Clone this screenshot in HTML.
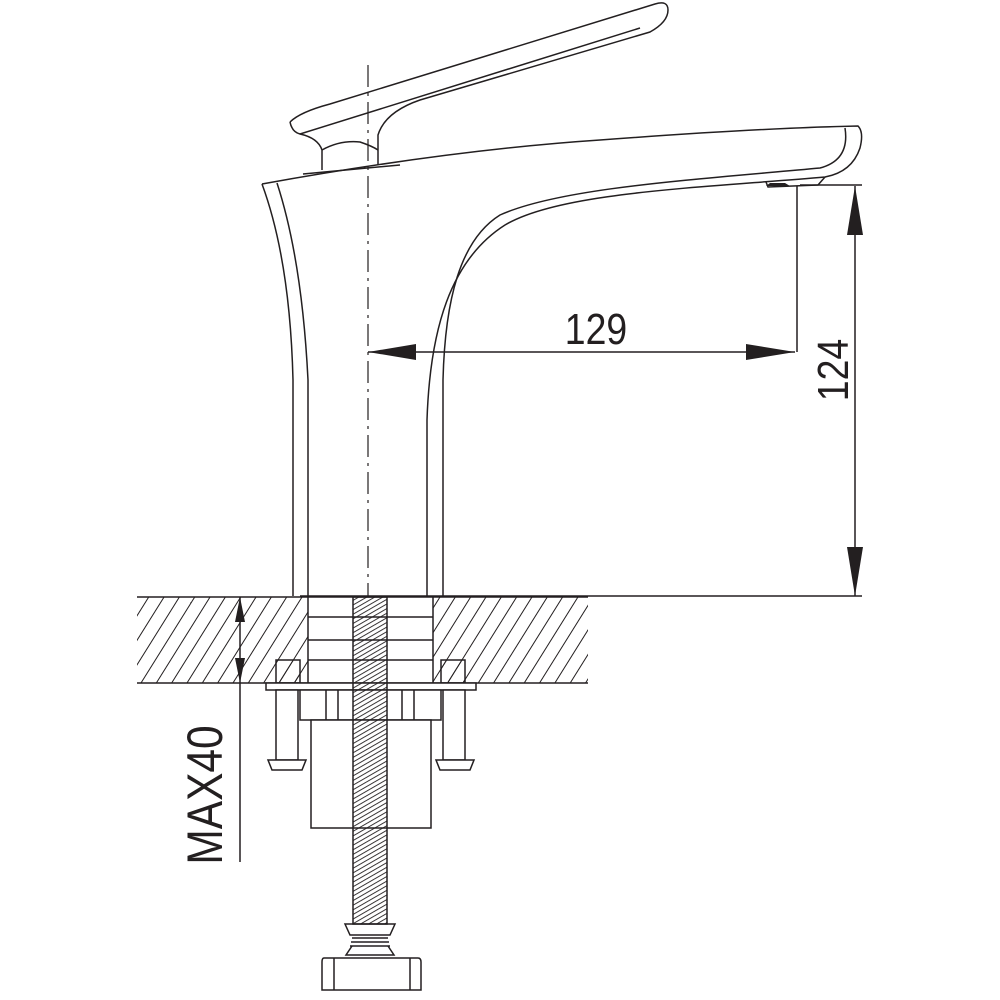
<!DOCTYPE html>
<html><head><style>html,body{margin:0;padding:0;background:#fff;}svg{display:block}</style></head>
<body>
<svg width="1000" height="1000" viewBox="0 0 1000 1000" xmlns="http://www.w3.org/2000/svg">
<defs>
<pattern id="h" patternUnits="userSpaceOnUse" width="13" height="13" patternTransform="rotate(32)">
<line x1="0" y1="0" x2="0" y2="13" stroke="#231f20" stroke-width="2"/>
</pattern>
<pattern id="t" patternUnits="userSpaceOnUse" width="4" height="4" patternTransform="rotate(60)">
<line x1="0" y1="0" x2="0" y2="4" stroke="#231f20" stroke-width="1.8"/>
</pattern>
</defs>
<g fill="none" stroke="#231f20" stroke-width="1.5">
<!-- handle -->
<path d="M290 122 Q300 112 330 104 L655 4 Q668 0 668 10 Q668 22 650 32 L420 100 Q385 112 378 135 L378 165"/>
<path d="M290 122 Q292 132 300 134 Q318 138 322 150 L322 170"/>
<path d="M300 134 L640 28"/>
<path d="M322 150 Q340 140 360 142 Q372 146 378 150"/>
<path d="M303 174 L400 165"/>
<!-- body top / spout -->
<path d="M262 184 Q450 150 600 140 Q760 128 858 126 Q864 132 860 148 Q852 172 825 177 C700 188 560 192 505 225 C450 260 430 330 427 420 L427 596"/>
<path d="M845 128 Q850 160 820 168 C690 180 560 188 500 215 C460 240 445 300 443 380 L443 596"/>
<path d="M262 184 Q290 260 293 380 L293 596"/>
<path d="M277 183 Q302 260 308 380 L308 596"/>
<!-- aerator -->
<path d="M766 182 L768 187 L818 185 L825 177"/>
<!-- centerline -->
<path d="M368 65 L368 596" stroke-dasharray="22 6 3 6" stroke-width="1.2"/>
<!-- dims 129 -->
<path d="M368 352 L795 352 M797 186 L797 352"/>
<!-- dims 124 -->
<path d="M855 186 L855 596 M800 185 L862 185 M300 596 L862 596"/>
<!-- countertop -->
<rect x="137" y="597" width="171" height="86" fill="url(#h)" stroke="none"/>
<rect x="433" y="597" width="155" height="86" fill="url(#h)" stroke="none"/>
<path d="M137 597 L588 597 M137 683 L588 683"/>
<!-- shank -->
<rect x="308" y="597" width="125" height="86" fill="#fff"/>
<path d="M308 617 L433 617 M308 640 L433 640 M308 660 L433 660"/>
<rect x="276" y="660" width="24" height="23" fill="url(#h)"/>
<rect x="441" y="660" width="24" height="23" fill="url(#h)"/>
<rect x="266" y="683" width="210" height="7" fill="#fff"/>
<rect x="300" y="690" width="141" height="30" fill="#fff"/>
<path d="M326 690 L326 720 M338 690 L338 720 M402 690 L402 720 M414 690 L414 720"/>
<rect x="276" y="690" width="22" height="70" fill="#fff"/>
<rect x="443" y="690" width="22" height="70" fill="#fff"/>
<path d="M268 760 L306 760 L302 770 L272 770 Z M436 760 L474 760 L470 770 L440 770 Z" fill="#fff"/>
<rect x="311" y="720" width="120" height="108" fill="#fff"/>
<!-- rod -->
<rect x="353" y="597" width="34" height="327" fill="url(#t)"/>
<path d="M345 924 L395 924 L390 935 L350 935 Z"/>
<path d="M352 938 L388 938 M351 942 L389 942 M350 946 L390 946"/>
<path d="M352 946 L346 955 L394 955 L388 946"/>
<path d="M324 958 L418 958 Q421 958 421 962 L421 990 L322 990 L322 962 Q322 958 324 958 Z"/>
<path d="M334 958 L334 990 M410 958 L410 990"/>
<!-- max40 -->
<path d="M240 597 L240 862"/>
</g>
<g fill="#231f20">
<polygon points="368,352 416,344 416,360"/>
<polygon points="795,352 746,344 746,360"/>
<polygon points="855,186 847,235 863,235"/>
<polygon points="855,596 847,547 863,547"/>
<polygon points="240,597 235,622 245,622"/>
<polygon points="240,683 235,658 245,658"/>
<polygon points="766,186 790,186 785,183 770,183"/>
</g>
<g font-family="Liberation Sans, sans-serif" fill="#231f20">
<text x="596" y="344" font-size="44" text-anchor="middle" transform="translate(596 0) scale(0.85 1) translate(-596 0)">129</text>
<text x="0" y="0" font-size="44" text-anchor="middle" transform="translate(848 370) rotate(-90) scale(0.85 1)">124</text>
<text x="0" y="0" font-size="50" text-anchor="middle" transform="translate(222 795) rotate(-90) scale(0.85 1)">MAX40</text>
</g>
</svg>
</body></html>
